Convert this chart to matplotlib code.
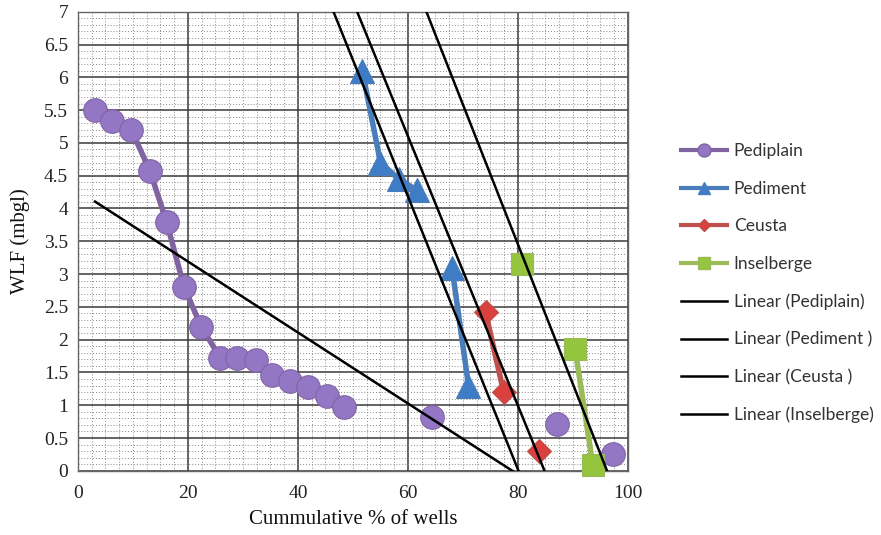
import numpy as np
import matplotlib.pyplot as plt
from matplotlib.ticker import MultipleLocator
from matplotlib.lines import Line2D

# Cumulative % of wells (x) vs water level fluctuation (y); None = blank cell (gap in line)
pediplain_x = [3.1, 6.2, 9.7, 13.1, 16.1, 19.3, 22.4, 25.9, 29.0, 32.3, 35.2, 38.6,
               41.9, 45.3, 48.4, None, 64.4, None, 87.1, None, 97.2]
pediplain_y = [5.5, 5.33, 5.2, 4.57, 3.8, 2.8, 2.2, 1.72, 1.72, 1.69, 1.46, 1.37,
               1.28, 1.14, 0.97, None, 0.82, None, 0.72, None, 0.26]

pediment_x = [51.7, 55.0, 58.3, 61.6, None, 68.0, 71.0]
pediment_y = [6.1, 4.7, 4.45, 4.28, None, 3.1, 1.3]

ceusta_x = [74.1, 77.4, None, 83.9]
ceusta_y = [2.42, 1.2, None, 0.3]

inselberge_x = [80.7, None, 90.4, 93.6]
inselberge_y = [3.15, None, 1.85, 0.09]

x_ticks = [0, 20, 40, 60, 80, 100]
y_ticks = [0, 0.5, 1, 1.5, 2, 2.5, 3, 3.5, 4, 4.5, 5, 5.5, 6, 6.5, 7]
y_tick_labels = ["0", "0.5", "1", "1.5", "2", "2.5", "3", "3.5", "4", "4.5",
                 "5", "5.5", "6", "6.5", "7"]

series = [
    ("Pediplain", pediplain_x, pediplain_y, "#8064A2", "#9377C4", "o", 17, "Linear (Pediplain)", 3.1),
    ("Pediment", pediment_x, pediment_y, "#4A7EBB", "#3E7CC6", "^", 17, "Linear (Pediment )", 0),
    ("Ceusta", ceusta_x, ceusta_y, "#C0504D", "#D8413E", "D", 12, "Linear (Ceusta )", 0),
    ("Inselberge", inselberge_x, inselberge_y, "#9BBB59", "#95C43E", "s", 16, "Linear (Inselberge)", 0),
]


def arr(values):
    return np.array([np.nan if v is None else v for v in values], dtype=float)


fig = plt.figure(figsize=(8.81, 5.35), dpi=100)
ax = fig.add_axes([0.0885, 0.12, 0.6243, 0.858])

ax.set_xlim(0, 100)
ax.set_ylim(0, 7)

# grid: solid majors, dotted minors
ax.xaxis.set_minor_locator(MultipleLocator(2.5))
ax.yaxis.set_minor_locator(MultipleLocator(0.1))
ax.grid(which="minor", color="#8a8a8a", linestyle=(0, (1, 2)), linewidth=0.7)
ax.grid(which="major", color="#3a3a3a", linestyle="-", linewidth=1.1)
ax.set_axisbelow(True)
for sp in ax.spines.values():
    sp.set_color("#666666")
    sp.set_linewidth(1.0)

ax.set_xticks(x_ticks)
ax.set_yticks(y_ticks)
ax.set_yticklabels(y_tick_labels)
ax.tick_params(which="both", length=0)
ax.tick_params(axis="x", pad=10)
ax.tick_params(axis="y", pad=7)
for lab in ax.get_xticklabels() + ax.get_yticklabels():
    lab.set_fontfamily("Liberation Serif")
    lab.set_fontsize(14)
    lab.set_color("#222222")

ax.set_xlabel("Cummulative % of wells", fontfamily="Liberation Serif", fontsize=15,
              color="#111111", labelpad=6)
ax.set_ylabel("WLF (mbgl)", fontfamily="Liberation Serif", fontsize=15,
              color="#111111", labelpad=10)

series_handles = []
trend_handles = []
for name, xs, ys, lc, mc, mk, ms, tname, tstart in series:
    x = arr(xs)
    y = arr(ys)
    ax.plot(x, y, color=lc, linewidth=4.0, solid_capstyle="round", zorder=3, clip_on=False)
    ax.plot(x, y, linestyle="none", marker=mk, markersize=ms, markerfacecolor=mc,
            markeredgecolor=lc, markeredgewidth=0.8, zorder=4, clip_on=False)
    series_handles.append(Line2D([], [], color=lc, linewidth=3.0, marker=mk,
                                 markersize=ms * 0.55, markerfacecolor=mc,
                                 markeredgecolor=lc, label=name))
    # least-squares linear trendline
    ok = ~np.isnan(x)
    slope, intercept = np.polyfit(x[ok], y[ok], 1)
    tx = np.linspace(tstart, 100, 200)
    ax.plot(tx, slope * tx + intercept, color="black", linewidth=1.8, zorder=5)
    trend_handles.append(Line2D([], [], color="black", linewidth=1.8, label=tname))

leg = fig.legend(handles=series_handles + trend_handles, loc="upper left",
                 bbox_to_anchor=(0.765, 0.745), frameon=False,
                 prop={"family": "Lato", "size": 12.5}, labelspacing=1.24,
                 handlelength=2.65, handletextpad=0.4, borderaxespad=0)
for t in leg.get_texts():
    t.set_color("#333333")

fig.savefig("out.png", dpi=100)
